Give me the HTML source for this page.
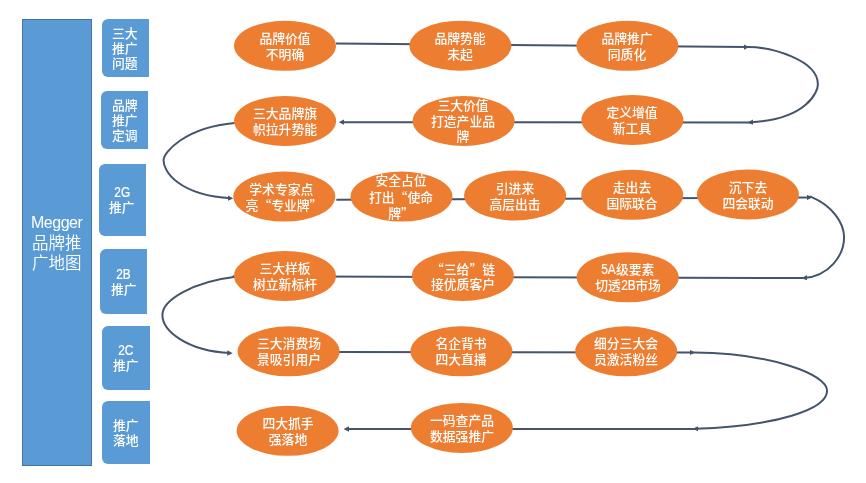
<!DOCTYPE html>
<html lang="zh-CN">
<head>
<meta charset="utf-8">
<title>Megger 品牌推广地图</title>
<style>
html,body{margin:0;padding:0;background:#fff;}
body{-webkit-font-smoothing:antialiased;width:866px;height:483px;position:relative;overflow:hidden;font-family:"Liberation Sans","Noto Sans CJK SC",sans-serif;color:#fff;}
#main{position:absolute;left:22px;top:19px;width:70px;height:446.6px;box-sizing:border-box;background:#5B9BD5;border:1px solid #41719C;border-left-color:#4676A3;border-right-color:#4676A3;display:flex;align-items:center;justify-content:center;text-align:center;font-size:16.5px;line-height:19.5px;font-weight:350;}
.tab{position:absolute;background:#5B9BD5;border-radius:6px 0 0 6px;padding-top:2px;box-sizing:border-box;display:flex;align-items:center;justify-content:center;text-align:center;font-size:12.8px;line-height:15px;font-weight:500;}
svg{position:absolute;left:0;top:0;}
.e{will-change:transform;position:absolute;width:102px;height:50px;display:flex;align-items:center;justify-content:center;text-align:center;font-size:12.8px;line-height:15.5px;font-weight:500;padding-top:1px;box-sizing:border-box;white-space:nowrap;}
.l{display:inline-block;font-size:13.8px;transform:scaleX(0.86);margin:0 -1.3px;-webkit-text-stroke:0.2px #fff;}
.tab>div,#main>div{will-change:transform;}
.q{font-family:"Noto Sans CJK SC",sans-serif;}
</style>
</head>
<body>
<div id="main"><div><span style="font-size:16px;letter-spacing:-0.5px">Megger</span><br><span style="position:relative;top:1.5px">品牌推<br>广地图</span></div></div>

<div class="tab" style="left:101.8px;top:19.1px;width:47.4px;height:57.8px;"><div style="margin-left:-1px">三大<br>推广<br>问题</div></div>
<div class="tab" style="left:101.1px;top:91px;width:47.2px;height:57.6px;"><div>品牌<br>推广<br>定调</div></div>
<div class="tab" style="left:99px;top:164px;width:46.9px;height:71.5px;padding-top:0"><div style="margin-left:-1px"><span class="l">2G</span><br>推广</div></div>
<div class="tab" style="left:99.9px;top:248.5px;width:47.2px;height:65px;"><div><span class="l">2B</span><br>推广</div></div>
<div class="tab" style="left:101.9px;top:325.7px;width:47.8px;height:64.2px;padding-top:0"><div><span class="l">2C</span><br>推广</div></div>
<div class="tab" style="left:101.9px;top:401.4px;width:47.8px;height:62.4px;padding-top:0"><div>推广<br>落地</div></div>

<svg width="866" height="483" viewBox="0 0 866 483">
<defs>
<marker id="ah" viewBox="0 0 10 10" refX="6" refY="5" markerWidth="5.4" markerHeight="6" markerUnits="userSpaceOnUse" orient="auto"><path d="M0,0 L10,5 L0,10 Z" fill="#44546A"/></marker>
</defs>
<g fill="none" stroke="#44546A" stroke-width="2">
<!-- row 1 -->
<path d="M336,43.5 L747.2,47.1" marker-end="url(#ah)"/>
<path d="M746.5,47.1 L748,47.1 C770.6,47.05 817.9,59.6 817.9,84.4 C817.9,91 807.9,119.4 749.8,122.4" marker-end="url(#ah)"/>
<!-- row 2 -->
<path d="M750.5,122.5 L341,122.2" marker-end="url(#ah)"/>
<path d="M234.6,123 C184.3,127.6 163.5,152.7 163.5,160.3 C163.5,171.4 178.7,195.2 231,198.3" marker-end="url(#ah)"/>
<!-- row 3 -->
<path d="M336.3,199.8 L810.1,197.4" marker-end="url(#ah)"/>
<path d="M809.8,196.5 L812.1,197.4 C831.6,205.4 844.1,222.7 844.1,237.3 C844.1,255.5 828.9,276.2 803.8,278" marker-end="url(#ah)"/>
<!-- row 4 -->
<path d="M804.5,278.1 L232.8,276.3"/>
<path d="M233.9,277 C194.9,281.6 162.4,299.4 162.4,315 C162.4,330 185.6,351.1 230.5,353.1" marker-end="url(#ah)"/>
<!-- row 5 -->
<path d="M339,352.1 L692.8,352.6" marker-end="url(#ah)"/>
<path d="M692.3,352.6 L693.8,352.6 C771.2,353.2 827.1,374.3 827.1,390.7 C827.1,409.2 776.9,426.1 695.1,428.8" marker-end="url(#ah)"/>
<!-- row 6 -->
<path d="M696,428.9 L345.9,429" marker-end="url(#ah)"/>
</g>
<g fill="#ED7D31">
<ellipse cx="285" cy="45.8" rx="51" ry="25"/>
<ellipse cx="460.4" cy="45.7" rx="51" ry="25"/>
<ellipse cx="627.4" cy="45.8" rx="51" ry="25"/>
<ellipse cx="285.1" cy="121" rx="51" ry="25"/>
<ellipse cx="463.6" cy="121" rx="51" ry="25"/>
<ellipse cx="632.4" cy="120" rx="51" ry="25"/>
<ellipse cx="284.3" cy="196.6" rx="51" ry="25"/>
<ellipse cx="401.5" cy="196.6" rx="51" ry="25"/>
<ellipse cx="515.1" cy="195.5" rx="51" ry="25"/>
<ellipse cx="632.2" cy="194.8" rx="51" ry="25"/>
<ellipse cx="747.9" cy="194.5" rx="51" ry="25"/>
<ellipse cx="285" cy="275.9" rx="51" ry="25"/>
<ellipse cx="462.9" cy="275.9" rx="51" ry="25"/>
<ellipse cx="627.7" cy="277.3" rx="51" ry="25"/>
<ellipse cx="288.6" cy="351.3" rx="51" ry="25"/>
<ellipse cx="461.4" cy="351.3" rx="51" ry="25"/>
<ellipse cx="626.2" cy="351.3" rx="51" ry="25"/>
<ellipse cx="287.6" cy="430.8" rx="51" ry="25"/>
<ellipse cx="461.9" cy="427.9" rx="51" ry="25"/>
</g>
</svg>

<div class="e" style="left:234px;top:20.8px;"><div>品牌价值<br>不明确</div></div>
<div class="e" style="left:409.4px;top:20.7px;"><div>品牌势能<br>未起</div></div>
<div class="e" style="left:576.4px;top:20.8px;"><div>品牌推广<br>同质化</div></div>

<div class="e" style="left:234.1px;top:96px;"><div>三大品牌旗<br>帜拉升势能</div></div>
<div class="e" style="left:411.6px;top:96px;"><div>三大价值<br>打造产业品<br>牌</div></div>
<div class="e" style="left:581.4px;top:95px;"><div>定义增值<br>新工具</div></div>

<div class="e" style="left:233.3px;top:171.6px;"><div><span style="position:relative;left:-2.7px">学术专家点</span><br>亮<span class="q">“</span>专业牌<span class="q">”</span></div></div>
<div class="e" style="left:349.5px;top:172.2px;"><div>安全占位<br>打出<span class="q">“</span>使命<br>牌<span class="q">”</span></div></div>
<div class="e" style="left:464.1px;top:170.5px;"><div>引进来<br>高层出击</div></div>
<div class="e" style="left:581.2px;top:169.8px;"><div>走出去<br>国际联合</div></div>
<div class="e" style="left:696.9px;top:169.5px;"><div>沉下去<br>四会联动</div></div>

<div class="e" style="left:234px;top:250.9px;"><div>三大样板<br>树立新标杆</div></div>
<div class="e" style="left:411.9px;top:250.9px;"><div><span class="q">“</span>三给<span class="q">”</span>链<br>接优质客户</div></div>
<div class="e" style="left:576.7px;top:252.3px;"><div><span class="l">5A</span>级要素<br>切透<span class="l">2B</span>市场</div></div>

<div class="e" style="left:237.6px;top:326.3px;"><div>三大消费场<br>景吸引用户</div></div>
<div class="e" style="left:410.4px;top:326.3px;"><div>名企背书<br>四大直播</div></div>
<div class="e" style="left:575.2px;top:326.3px;"><div>细分三大会<br>员激活粉丝</div></div>

<div class="e" style="left:236.6px;top:405.8px;"><div>四大抓手<br>强落地</div></div>
<div class="e" style="left:410.9px;top:402.9px;"><div>一码查产品<br>数据强推广</div></div>
</body>
</html>
